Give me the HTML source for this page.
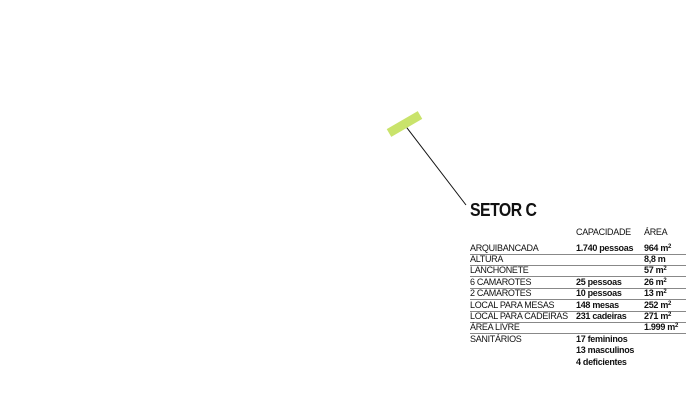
<!DOCTYPE html>
<html><head><style>
body{margin:0;width:700px;height:420px;background:#fff;position:relative;overflow:hidden;font-family:"Liberation Sans",sans-serif;color:#111}
.t{position:absolute;left:470px;top:200px;font-size:18px;font-weight:bold;letter-spacing:-0.6px;transform:scaleX(0.88);transform-origin:left}
.r{position:absolute;left:470px;width:216px;height:11px;font-size:9px;line-height:11px;letter-spacing:-0.3px}
.r span{position:absolute;top:0;white-space:nowrap}
.b{border-bottom:1px solid #888}
.c1{left:0}.c2{left:106px;font-weight:bold}.c3{left:174px;font-weight:bold}
sup{font-size:6px;vertical-align:3px;line-height:0}
</style></head><body>
<svg width="700" height="420" style="position:absolute;left:0;top:0">
<line x1="404" y1="124" x2="466" y2="205" stroke="#111" stroke-width="1"/>
<line x1="389" y1="133" x2="420" y2="115" stroke="#c9e36b" stroke-width="9"/>
</svg>
<div class="t">SETOR C</div>
<div class="r" style="top:227px"><span style="left:106px">CAPACIDADE</span><span style="left:174px">ÁREA</span></div>
<div class="r b" style="top:243px"><span class="c1">ARQUIBANCADA</span><span class="c2">1.740 pessoas</span><span class="c3">964 m<sup>2</sup></span></div>
<div class="r b" style="top:254px"><span class="c1">ALTURA</span><span class="c3">8,8 m</span></div>
<div class="r b" style="top:265px"><span class="c1">LANCHONETE</span><span class="c3">57 m<sup>2</sup></span></div>
<div class="r b" style="top:277px"><span class="c1">6 CAMAROTES</span><span class="c2">25 pessoas</span><span class="c3">26 m<sup>2</sup></span></div>
<div class="r b" style="top:288px"><span class="c1">2 CAMAROTES</span><span class="c2">10 pessoas</span><span class="c3">13 m<sup>2</sup></span></div>
<div class="r b" style="top:300px"><span class="c1">LOCAL PARA MESAS</span><span class="c2">148 mesas</span><span class="c3">252 m<sup>2</sup></span></div>
<div class="r b" style="top:311px"><span class="c1">LOCAL PARA CADEIRAS</span><span class="c2">231 cadeiras</span><span class="c3">271 m<sup>2</sup></span></div>
<div class="r b" style="top:322px"><span class="c1">ÁREA LIVRE</span><span class="c3">1.999 m<sup>2</sup></span></div>
<div class="r" style="top:334px"><span class="c1">SANITÁRIOS</span><span class="c2">17 femininos</span></div>
<div class="r" style="top:345px"><span class="c2">13 masculinos</span></div>
<div class="r" style="top:357px"><span class="c2">4 deficientes</span></div>
</body></html>
